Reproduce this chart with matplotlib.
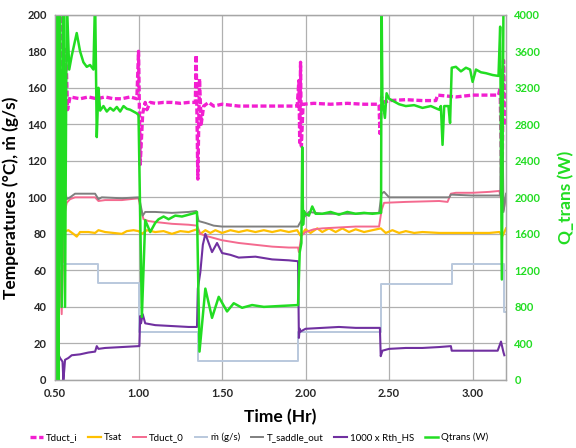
import numpy as np
import matplotlib.pyplot as plt

plt.rcParams['font.family'] = ['Lato', 'DejaVu Sans']

# ---- data (time in hr) ----
t_tdi = [0.52, 0.535, 0.545, 0.555, 0.565, 0.575, 0.59, 0.65, 0.70, 0.75, 0.80, 0.85, 0.90, 0.95, 0.99,
         1.00, 1.01, 1.025, 1.04, 1.05, 1.07, 1.10, 1.15, 1.20, 1.25, 1.30, 1.34,
         1.345, 1.355, 1.365, 1.375, 1.39, 1.42, 1.45, 1.50, 1.60, 1.70, 1.80, 1.90, 1.95,
         1.96, 1.965, 1.97, 1.975, 1.985, 2.05, 2.15, 2.25, 2.35, 2.44,
         2.445, 2.455, 2.47, 2.50, 2.60, 2.70, 2.78, 2.79, 2.90, 3.00, 3.10, 3.155,
         3.165, 3.175, 3.185, 3.195]
tduct_i = [210, 100, 210, 142, 181, 148, 155, 154, 155, 154, 155, 154, 154, 155, 154,
           180, 118, 146, 152, 148, 152, 151.5, 152, 152, 151.5, 152, 152,
           178, 110, 165, 140, 150, 152, 150, 151, 150, 150, 150, 150, 150,
           164, 130, 174, 128, 151, 151.5, 151, 151.5, 151, 151,
           135, 155, 152, 153, 153.5, 153, 153, 156, 155, 156, 156, 156,
           160, 100, 175, 140]

t_tsat = [0.50, 0.55, 0.58, 0.61, 0.63, 0.65, 0.70, 0.74, 0.76, 0.80, 0.85, 0.90, 0.93, 0.97, 1.00,
          1.02, 1.05, 1.10, 1.15, 1.20, 1.25, 1.30, 1.35, 1.37, 1.40, 1.43, 1.46, 1.50, 1.55,
          1.60, 1.65, 1.70, 1.75, 1.80, 1.85, 1.90, 1.95, 1.97, 2.00, 2.03, 2.07, 2.10, 2.14,
          2.18, 2.22, 2.26, 2.30, 2.35, 2.40, 2.45, 2.48, 2.52, 2.56, 2.60, 2.65, 2.70, 2.80,
          2.90, 3.00, 3.10, 3.16, 3.18, 3.20]
tsat = [82, 81, 82, 80, 78.5, 81, 81, 80.5, 82, 81, 80.5, 80, 81.5, 82, 81.5,
        80, 82, 81, 81.5, 80, 81.5, 81, 82.5, 80, 82, 80.5, 82, 80.5, 82,
        81, 82, 81, 82, 81, 82, 81, 82, 79, 82.5, 80.5, 83, 81, 83,
        81, 83, 81, 82.5, 81, 82, 83, 80.5, 82, 80.5, 81.5, 80.5, 81, 80.5,
        80.5, 80.5, 80.5, 81, 79, 83]

t_tduct0 = [0.50, 0.51, 0.53, 0.54, 0.555, 0.57, 0.59, 0.62, 0.70, 0.74, 0.76, 0.80, 0.90, 0.95, 1.00,
            1.01, 1.03, 1.06, 1.10, 1.20, 1.30, 1.35, 1.37, 1.40, 1.50, 1.60, 1.70, 1.80, 1.90, 1.955,
            1.96, 1.975, 2.00, 2.05, 2.10, 2.20, 2.30, 2.44, 2.455, 2.47, 2.60, 2.80, 2.85,
            2.87, 2.90, 3.00, 3.10, 3.16, 3.175, 3.185, 3.20]
tduct0 = [47, 33, 60, 36, 90, 97, 99, 100, 100, 100, 98, 98.5, 98.5, 99, 99.5,
          95, 88, 87, 86.5, 85.5, 85, 84.5, 80, 79, 76.5, 75, 74, 73, 72.5, 72.5,
          70, 79, 81, 82.5, 83, 83.5, 84, 84, 93, 97, 97.5, 98, 97.5,
          102, 102.5, 102.5, 103, 103.5, 97, 93, 100]

t_mdot = [0.555, 0.757, 1.005, 1.355, 1.955, 2.45, 2.875, 3.19, 3.20]
mdot = [63.5, 53, 26.5, 10.5, 26.5, 52.5, 63.5, 37, 37]

t_tsad = [0.50, 0.52, 0.545, 0.56, 0.57, 0.59, 0.62, 0.70, 0.74, 0.76, 0.78, 0.90, 1.00,
          1.01, 1.025, 1.04, 1.10, 1.20, 1.30, 1.345, 1.36, 1.40, 1.45, 1.50, 1.60, 1.70, 1.80,
          1.90, 1.955, 1.96, 1.98, 2.00, 2.02, 2.10, 2.20, 2.30, 2.44, 2.455, 2.47, 2.50,
          2.60, 2.70, 2.80, 2.86, 2.87, 3.00, 3.10, 3.165, 3.175, 3.185, 3.20]
tsad = [51, 52, 100, 104, 99, 100, 102, 102, 102, 99, 100, 99.5, 100,
        97, 90, 92, 92, 91.5, 92, 92.5, 87, 86, 84.5, 84, 84, 84, 84,
        84, 84, 85, 88, 90, 92, 91, 91, 91, 91.5, 102, 103, 100,
        100, 100, 100, 100, 101.5, 101, 101, 101, 170, 92, 102]

t_rth = [0.52, 0.53, 0.545, 0.55, 0.555, 0.56, 0.58, 0.60, 0.65, 0.70, 0.74, 0.75, 0.76, 0.80, 0.90, 1.00,
         1.005, 1.01, 1.015, 1.025, 1.04, 1.10, 1.20, 1.30, 1.35,
         1.355, 1.37, 1.385, 1.40, 1.44, 1.47, 1.50, 1.55, 1.60, 1.70, 1.80, 1.90, 1.955,
         1.96, 1.965, 1.97, 2.00, 2.10, 2.20, 2.30, 2.40, 2.445,
         2.45, 2.46, 2.50, 2.60, 2.70, 2.80, 2.87, 2.875, 2.90, 3.00, 3.10, 3.15, 3.17, 3.185, 3.19]
rth = [14, 12, 10, 0, 5, 11, 12, 13.5, 14, 15, 15.5, 18.5, 17, 17.5, 18, 18.5,
       18.5, 35, 31, 36, 31, 30, 29.5, 29, 29,
       50, 59, 74, 80, 70, 75, 69.5, 68.5, 67, 67.5, 66, 65.5, 65,
       23, 28, 26.5, 28, 28.5, 29, 28.5, 28.5, 28.5,
       13, 16, 17, 17.5, 17.5, 18, 18.5, 16, 16, 16, 16, 16, 21, 15, 13.5]

t_q = [0.505, 0.515, 0.52, 0.53, 0.54, 0.55, 0.56, 0.57, 0.585, 0.60, 0.63, 0.65, 0.67, 0.69, 0.71, 0.73,
       0.74, 0.75, 0.76, 0.77, 0.79, 0.81, 0.83, 0.85, 0.87, 0.89, 0.91, 0.93, 0.95, 0.97, 0.99, 1.00,
       1.02, 1.04, 1.07, 1.10, 1.12, 1.15, 1.18, 1.22, 1.26, 1.30, 1.34, 1.35,
       1.365, 1.40, 1.44, 1.48, 1.53, 1.57, 1.62, 1.68, 1.75, 1.85, 1.955,
       1.965, 1.975, 1.98, 1.985, 1.99, 2.00, 2.02, 2.04, 2.06, 2.10, 2.15, 2.20, 2.25, 2.30,
       2.35, 2.40, 2.452, 2.455, 2.46, 2.475, 2.485, 2.50, 2.53, 2.56, 2.60, 2.65, 2.70, 2.75,
       2.80, 2.81, 2.82, 2.83, 2.855, 2.865, 2.875, 2.90, 2.93, 2.96, 2.985, 3.00, 3.02, 3.05,
       3.08, 3.12, 3.155, 3.165, 3.175, 3.185, 3.195]
qtrans = [0, 4200, 0, 4200, 800, 4200, 800, 4200, 3400, 3550, 3800, 3600, 3480, 3430, 3450, 3400,
          4200, 2660, 3200, 2950, 3000, 2940, 2980, 2950, 2990, 2940, 3000, 2970, 2960, 2940, 2920, 2900,
          690, 1750, 1620, 1720, 1760, 1790, 1760, 1800, 1790, 1810, 1830, 1840,
          310, 1000, 680, 910, 750, 840, 790, 820, 800, 810, 820,
          1400, 1500, 2550, 1700, 1850, 1820, 1800, 1900, 1820, 1820, 1840, 1810, 1840, 1820,
          1830, 1820, 1830, 4200, 3070, 2870, 3140, 3080, 3050, 3020, 3000, 3010, 2980, 3000,
          2960, 3000, 2575, 3000, 3000, 2815, 3420, 3430, 3380, 3420, 3400, 3265, 3400, 3370,
          3360, 3340, 3330, 3870, 1100, 4200, 4200]

# ---- figure ----
fig = plt.figure(figsize=(5.76, 4.48), dpi=100)
ax = fig.add_axes([0.0955, 0.152, 0.783, 0.815])
ax2 = ax.twinx()

c_tdi = '#f21fd0'
c_tsat = '#ffc000'
c_td0 = '#f46a8f'
c_m = '#b9c8dd'
c_sad = '#7f7f7f'
c_rth = '#7030a0'
c_q = '#22dd22'

l1, = ax.plot(t_tdi, tduct_i, color=c_tdi, lw=2.4, dashes=(1.8, 0.8), label='Tduct_i')
l2, = ax.plot(t_tsat, tsat, color=c_tsat, lw=1.6, label='Tsat')
l3, = ax.plot(t_tduct0, tduct0, color=c_td0, lw=1.4, label='Tduct_0')
l4, = ax.step(t_mdot, mdot, where='post', color=c_m, lw=1.4, label='\u1e41 (g/s)')
l5, = ax.plot(t_tsad, tsad, color=c_sad, lw=1.4, label='T_saddle_out')
l6, = ax.plot(t_rth, rth, color=c_rth, lw=1.5, label='1000 x Rth_HS')
l7, = ax2.plot(t_q, qtrans, color=c_q, lw=1.8, label='Qtrans (W)')

ax.set_xlim(0.5, 3.2)
ax.set_ylim(0, 200)
ax2.set_ylim(0, 4000)
ax.set_xticks(np.arange(0.5, 3.01, 0.5))
ax.set_xticklabels(['%.2f' % v for v in np.arange(0.5, 3.01, 0.5)])
ax.set_yticks(np.arange(0, 201, 20))
ax2.set_yticks(np.arange(0, 4001, 400))

ax.grid(True, color='#b0b0b0', lw=0.9)
ax.set_axisbelow(True)
for a in (ax, ax2):
    for s in a.spines.values():
        s.set_color('#a6a6a6')
        s.set_linewidth(0.9)
ax.tick_params(length=0, labelsize=8, pad=6, colors='#262626')
ax2.tick_params(length=0, labelsize=8, pad=6, colors=c_q)
for lab in ax.get_xticklabels() + ax.get_yticklabels() + ax2.get_yticklabels():
    lab.set_fontweight('bold')

ax.set_xlabel('Time (Hr)', fontsize=12.5, fontweight='bold', labelpad=7)
ax.set_ylabel('Temperatures (\u00b0C), \u1e41 (g/s)', fontsize=12.5, fontweight='bold', labelpad=6)
ax2.set_ylabel('Q_trans (W)', fontsize=12.5, fontweight='bold', color=c_q, labelpad=12)

fig.legend(handles=[l1, l2, l3, l4, l5, l6, l7], loc='center', bbox_to_anchor=(0.45, 0.024),
           ncol=7, frameon=False, fontsize=7, handlelength=1.3, handletextpad=0.35,
           columnspacing=1.1)

fig.savefig('out.png', dpi=100)
